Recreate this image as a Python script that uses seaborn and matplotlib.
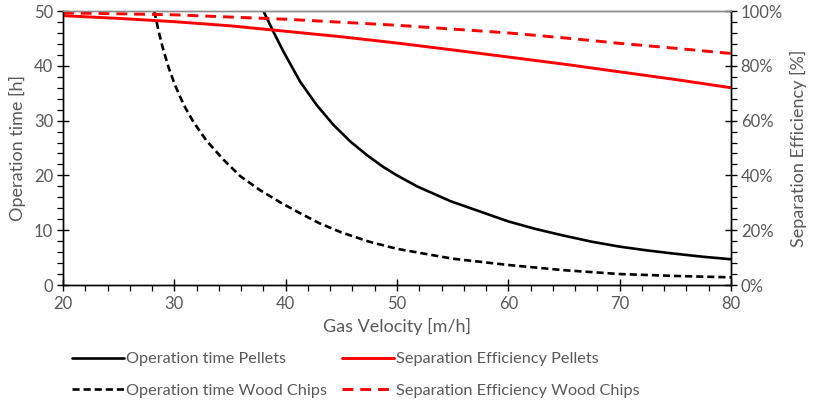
import matplotlib
matplotlib.use("Agg")
import matplotlib.pyplot as plt
from matplotlib.ticker import MultipleLocator, PercentFormatter
import seaborn as sns

# ---- data ----
v_ot_pellets = [38.0, 38.9, 39.8, 41.3, 42.8, 44.3, 45.8, 47.3, 48.8, 50.0, 51.8, 54.8, 60.0,
                62.5, 65.0, 67.5, 70.0, 72.5, 75.0, 77.5, 80.0]
ot_pellets   = [50.0, 46.2, 42.6, 37.1, 32.8, 29.2, 26.2, 23.7, 21.5, 20.0, 18.0, 15.3, 11.6,
                10.2, 9.0, 7.9, 7.0, 6.3, 5.7, 5.15, 4.7]

v_ot_chips = [28.2, 28.6, 29.0, 29.5, 30.0, 30.5, 31.0, 31.7, 32.9, 34.4, 35.9, 37.7, 39.5,
              41.2, 43.0, 45.0, 47.5, 50.0, 55.0, 60.0, 65.0, 70.0, 75.0, 80.0]
ot_chips   = [50.0, 46.2, 43.0, 39.6, 36.8, 34.4, 32.3, 29.8, 26.3, 22.9, 19.9, 17.3, 15.1,
              13.2, 11.3, 9.6, 7.9, 6.6, 4.8, 3.65, 2.7, 2.0, 1.65, 1.4]

v_se = [20, 25, 30, 35, 40, 45, 50, 55, 60, 65, 70, 75, 80]
se_pellets = [98.3, 97.3, 96.1, 94.6, 92.6, 90.6, 88.3, 85.8, 83.2, 80.6, 77.8, 75.0, 72.0]
se_chips   = [99.3, 99.0, 98.6, 97.8, 97.0, 95.9, 94.8, 93.4, 92.0, 90.2, 88.2, 86.4, 84.5]

labels = ["Operation time Pellets", "Operation time Wood Chips",
          "Separation Efficiency Pellets", "Separation Efficiency Wood Chips"]

sns.set_style("ticks")
plt.rcParams['font.family'] = ['Lato', 'DejaVu Sans']
TXT = "#595959"

fig = plt.figure(figsize=(8.13, 4.08), dpi=100)
ax = fig.add_axes([63/813, 1-285/408, (731-63)/813, (285-11)/408])
ax2 = ax.twinx()

lw = 1.9
sns.lineplot(x=v_ot_pellets, y=ot_pellets, ax=ax, color="black", lw=lw, label=labels[0], legend=False)
sns.lineplot(x=v_ot_chips, y=ot_chips, ax=ax, color="black", lw=lw, label=labels[1], legend=False)
ax.lines[1].set_dashes((2.7, 1.5))
sns.lineplot(x=v_se, y=se_pellets, ax=ax2, color="#ff0000", lw=2.1, label=labels[2], legend=False)
sns.lineplot(x=v_se, y=se_chips, ax=ax2, color="#ff0000", lw=2.1, label=labels[3], legend=False)
ax2.lines[1].set_dashes((3.7, 2.4))
for ln in ax.lines + ax2.lines:
    ln.set_solid_joinstyle("round")
    ln.set_dash_joinstyle("round")

ax.set_xlim(20, 80)
ax.set_ylim(0, 50)
ax2.set_ylim(0, 100)

ax.xaxis.set_major_locator(MultipleLocator(10))
ax.xaxis.set_minor_locator(MultipleLocator(2))
ax.yaxis.set_major_locator(MultipleLocator(10))
ax.yaxis.set_minor_locator(MultipleLocator(2))
ax2.yaxis.set_major_locator(MultipleLocator(20))
ax2.yaxis.set_minor_locator(MultipleLocator(4))
ax2.yaxis.set_major_formatter(PercentFormatter(decimals=0))

for a in (ax, ax2):
    for s in a.spines.values():
        s.set_color("black")
        s.set_linewidth(1.0)
    a.spines['top'].set_color("#8c8c8c")
    a.spines['top'].set_visible(True)
    a.spines['right'].set_visible(True)
    a.tick_params(which="major", direction="inout", length=8, width=1.0, color="black",
                  labelsize=12, labelcolor=TXT)
    a.tick_params(which="minor", direction="out", length=4, width=0.9, color="black")
ax.tick_params(axis="x", which="major", pad=4)
ax.tick_params(axis="y", which="major", pad=3)
ax2.tick_params(axis="y", which="major", pad=3)

ax.set_xlabel("Gas Velocity [m/h]", fontsize=13, color=TXT, labelpad=4)
ax.set_ylabel("Operation time [h]", fontsize=13, color=TXT, labelpad=6)
ax2.set_ylabel("Separation Efficiency [%]", fontsize=13, color=TXT, labelpad=5)

handles = ax.lines[:2] + ax2.lines[:2]
leg = fig.legend(handles, labels, ncol=2, loc="upper left", bbox_to_anchor=(72/813, 1-352/408),
                 frameon=False, fontsize=11.7, handlelength=3.2, handletextpad=0.12,
                 columnspacing=0.9, labelspacing=1.05, borderaxespad=0, borderpad=0)
for t in leg.get_texts():
    t.set_color(TXT)

fig.savefig("out.png", dpi=100)
